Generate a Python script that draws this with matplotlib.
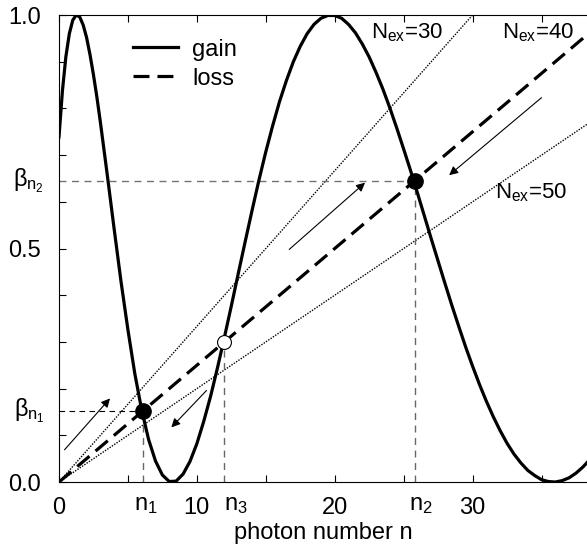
import numpy as np
import matplotlib
matplotlib.use("Agg")
import matplotlib.pyplot as plt
from matplotlib.lines import Line2D

plt.rcParams.update({
    "font.family": "Liberation Sans",
    "font.size": 17,
    "mathtext.fontset": "custom",
    "mathtext.rm": "Liberation Sans",
    "mathtext.it": "Liberation Sans",
    "mathtext.bf": "Liberation Sans:bold",
})

# ---- data ----
n_grid = [0, 0.25, 0.5, 0.75, 1.0, 1.25, 1.5, 1.75, 2.0, 2.25, 2.5, 2.75] + \
    list(np.arange(3.0, 38.51, 0.5))
gain = [0.739, 0.838, 0.911, 0.960, 0.989, 1.000, 0.996, 0.979, 0.952, 0.915,
        0.872, 0.824,
        0.771, 0.658, 0.542, 0.429,
        0.326, 0.232, 0.154, 0.091, 0.045, 0.015, 0.001, 0.002, 0.017, 0.044,
        0.082, 0.130, 0.184, 0.245, 0.310, 0.377, 0.446, 0.514, 0.581, 0.646,
        0.707, 0.763, 0.815, 0.860, 0.900, 0.933, 0.960, 0.980, 0.993, 0.999,
        0.999, 0.993, 0.980, 0.962, 0.938, 0.910, 0.877, 0.841, 0.801, 0.758,
        0.713, 0.667, 0.619, 0.570, 0.521, 0.473, 0.425, 0.378, 0.333, 0.289,
        0.248, 0.209, 0.173, 0.140, 0.110, 0.083, 0.060, 0.041, 0.025, 0.014,
        0.005, 0.001, 0.000, 0.003, 0.009, 0.019, 0.032, 0.048]
n_ex = [30, 40, 50]
n_fixed = [6.1, 12.0, 25.8]          # n1, n3, n2
beta_fixed = [0.152, 0.300, 0.645]
fixed_labels = [r"n$_1$", r"n$_3$", r"n$_2$"]
fixed_label_x = [5.45, 11.95, 25.4]

# arrows: (x0, y0, x1, y1) in data units
arrows = [(0.4, 0.069, 3.7, 0.179),
          (10.7, 0.196, 8.15, 0.117),
          (16.7, 0.498, 22.2, 0.641),
          (35.0, 0.823, 28.3, 0.657)]

fig = plt.figure(figsize=(5.87, 5.5), dpi=100)
ax = fig.add_axes([0.1005, 0.1236, 0.8995, 0.8491])
ax.set_xlim(0, 38.3)
ax.set_ylim(0, 1)

# loss lines
for N in n_ex:
    if N == 40:
        ax.axline((0, 0), slope=1 / N, color="black", lw=2.3,
                  ls=(0, (5, 2.5)), zorder=3)
    else:
        ax.axline((0, 0), slope=1 / N, color="black", lw=1.0,
                  ls=(0, (1, 1)), zorder=2)

# gain curve
ax.plot(n_grid, gain, color="black", lw=2.3, zorder=4)

# guide lines to fixed points
n1, n3, n2 = n_fixed
b1, b3, b2 = beta_fixed
ax.plot([0, n1], [b1, b1], color="black", lw=0.8, ls=(0, (5, 4)))
ax.plot([0, n2], [b2, b2], color="0.45", lw=1.0, ls=(0, (5, 4)))
for x, y in zip(n_fixed, beta_fixed):
    ax.plot([x, x], [0, y], color="0.4", lw=1.0, ls=(0, (5, 4)))

# fixed points
ax.plot([n1, n2], [b1, b2], "o", color="black", ms=11, zorder=6)
ax.plot([n3], [b3], "o", mfc="white", mec="black", mew=0.8, ms=10, zorder=6)

for x0, y0, x1, y1 in arrows:
    ax.annotate("", xy=(x1, y1), xytext=(x0, y0),
                arrowprops=dict(arrowstyle="-|>", color="black", lw=0.8,
                                mutation_scale=13, shrinkA=0, shrinkB=0))

# N_ex labels
ax.text(22.6, 0.962, r"N$_{\rm ex}$=30", ha="left", va="center", fontsize=16)
ax.text(32.1, 0.962, r"N$_{\rm ex}$=40", ha="left", va="center", fontsize=16)
ax.text(31.6, 0.62, r"N$_{\rm ex}$=50", ha="left", va="center", fontsize=16)

# axes / ticks
ax.spines["right"].set_visible(False)
ax.set_xticks([0, 10, 20, 30])
ax.set_xticks([5, 15, 25, 35], minor=True)
ax.set_yticks([0, 0.5, 1.0])
ax.set_yticklabels(["0.0", "0.5", "1.0"])
ax.set_yticks(np.arange(0.1, 1.0, 0.1), minor=True)
ax.yaxis.set_minor_formatter(plt.NullFormatter())
ax.tick_params(which="both", direction="in", top=True, right=False,
               length=5, width=0.8, labelsize=17)
ax.tick_params(axis="x", pad=11)
ax.tick_params(axis="y", pad=13)

xtr = ax.get_xaxis_transform()
for x, lab in zip(fixed_label_x, fixed_labels):
    ax.text(x, -0.026, lab, transform=xtr, ha="left", va="top", fontsize=17)
ytr = ax.get_yaxis_transform()
ax.text(-0.028, b1, r"$\beta_{n_1}$", transform=ytr, ha="right", va="center",
        fontsize=17)
ax.text(-0.028, b2, r"$\beta_{n_2}$", transform=ytr, ha="right", va="center",
        fontsize=17)

ax.set_xlabel("photon number n", fontsize=17, labelpad=2)

handles = [Line2D([0], [0], color="black", lw=2.3),
           Line2D([0], [0], color="black", lw=2.3, ls=(0, (5, 2.5)))]
ax.legend(handles, ["gain", "loss"], loc="upper left",
          bbox_to_anchor=(0.1, 0.995), frameon=False, handlelength=1.9,
          fontsize=17, labelspacing=0.3, handletextpad=0.6)

fig.savefig("out.png", dpi=100)
